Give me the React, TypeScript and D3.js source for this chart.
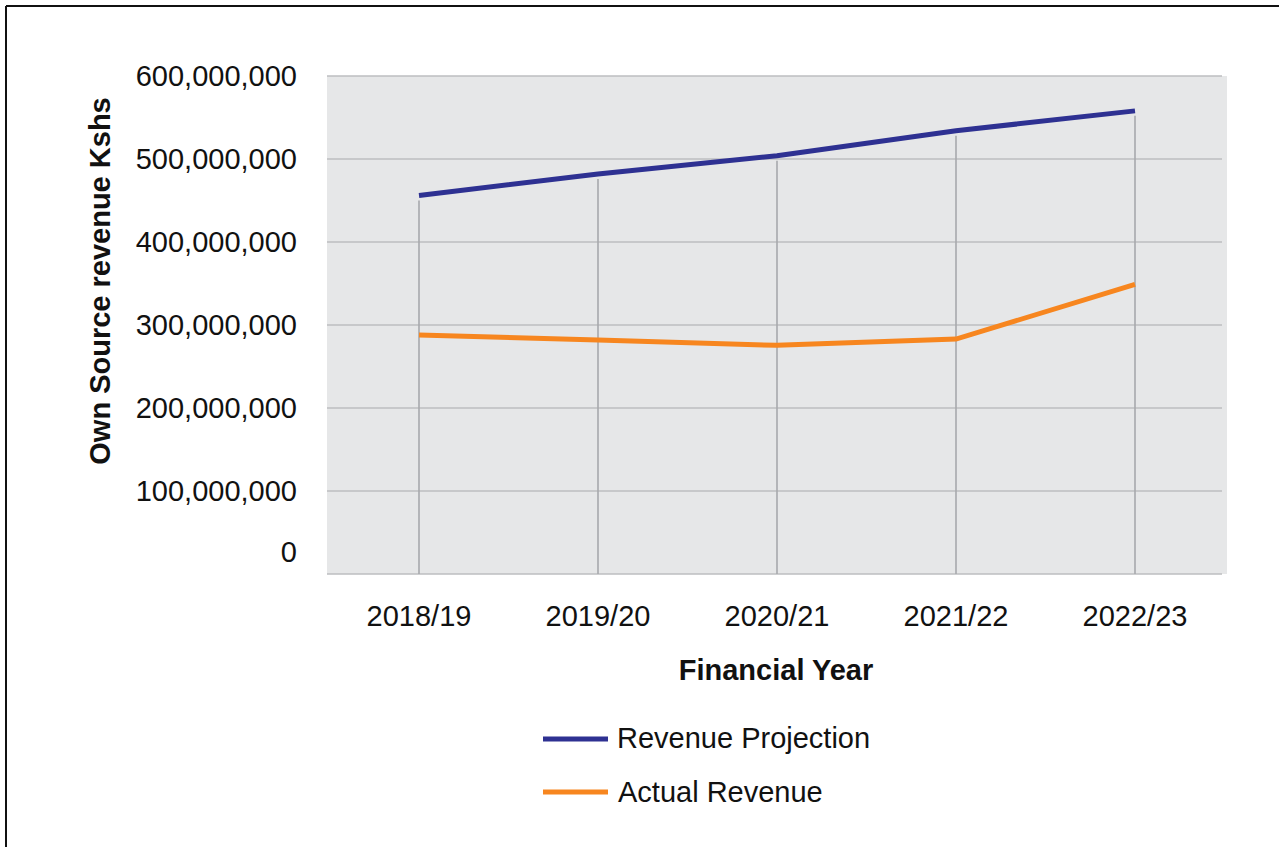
import React from "react";
import * as d3 from "d3";

const years = ["2018/19", "2019/20", "2020/21", "2021/22", "2022/23"];
const revenueProjection = [456000000, 482000000, 504000000, 534000000, 558000000];
const actualRevenue = [288000000, 282000000, 275500000, 283000000, 349000000];
const yTicks = [0, 100000000, 200000000, 300000000, 400000000, 500000000, 600000000];
const seriesNames = ["Revenue Projection", "Actual Revenue"];

const W = 1279;
const H = 847;
const FONT = "'Liberation Sans', Arial, Helvetica, sans-serif";
const BLUE = "#2e3192";
const ORANGE = "#f7861f";

export default function App() {
  const x = d3.scalePoint<string>().domain(years).range([419, 1135]);
  const y = d3.scaleLinear().domain([0, 600000000]).range([574, 76]);
  const fmt = d3.format(",");

  const line = d3
    .line<number>()
    .x((_, i) => x(years[i]) as number)
    .y((d) => y(d));

  const plotLeft = 327;
  const plotRight = 1227;
  const gridRight = 1222;

  return (
    <svg
      width={W}
      height={H}
      style={{ position: "absolute", left: 0, top: 0, background: "#fff" }}
      fontFamily={FONT}
    >
      <rect x={0} y={0} width={W} height={H} fill="#fff" />
      {/* outer frame (left and top visible) */}
      <line x1={6} y1={6} x2={W + 10} y2={6} stroke="#111" strokeWidth={2} />
      <line x1={6} y1={6} x2={6} y2={H + 10} stroke="#111" strokeWidth={2} />

      {/* plot background */}
      <rect x={plotLeft} y={y(600000000)} width={plotRight - plotLeft} height={y(0) - y(600000000)} fill="#e6e7e8" />

      {/* horizontal gridlines */}
      {yTicks.map((t) => (
        <line key={t} x1={plotLeft} x2={gridRight} y1={y(t)} y2={y(t)} stroke="#bcbec0" strokeWidth={1.6} />
      ))}

      {/* drop lines */}
      {years.map((yr, i) => (
        <line
          key={yr}
          x1={x(yr)}
          x2={x(yr)}
          y1={y(0)}
          y2={y(revenueProjection[i]) + 5}
          stroke="#a7a9ac"
          strokeWidth={1.6}
        />
      ))}

      {/* series */}
      <path d={line(actualRevenue) || ""} fill="none" stroke={ORANGE} strokeWidth={5} />
      <path d={line(revenueProjection) || ""} fill="none" stroke={BLUE} strokeWidth={5} />

      {/* y tick labels */}
      {yTicks.map((t) => (
        <text
          key={t}
          x={297}
          y={y(t) + (t === 0 ? -22 : 0)}
          textAnchor="end"
          dominantBaseline="central"
          fontSize={29}
          fill="#111"
        >
          {fmt(t)}
        </text>
      ))}

      {/* x tick labels */}
      {years.map((yr) => (
        <text key={yr} x={x(yr)} y={626} textAnchor="middle" fontSize={29} fill="#111">
          {yr}
        </text>
      ))}

      {/* axis titles */}
      <text x={776} y={680} textAnchor="middle" fontSize={29} fontWeight="bold" fill="#111">
        Financial Year
      </text>
      <text
        transform="translate(110,281) rotate(-90)"
        textAnchor="middle"
        fontSize={29}
        fontWeight="bold"
        fill="#111"
      >
        Own Source revenue Kshs
      </text>

      {/* legend */}
      <line x1={543} x2={608} y1={739} y2={739} stroke={BLUE} strokeWidth={5} />
      <text x={617} y={748} fontSize={29} fill="#111">
        {seriesNames[0]}
      </text>
      <line x1={543} x2={608} y1={792} y2={792} stroke={ORANGE} strokeWidth={5} />
      <text x={618} y={802} fontSize={29} fill="#111">
        {seriesNames[1]}
      </text>
    </svg>
  );
}
